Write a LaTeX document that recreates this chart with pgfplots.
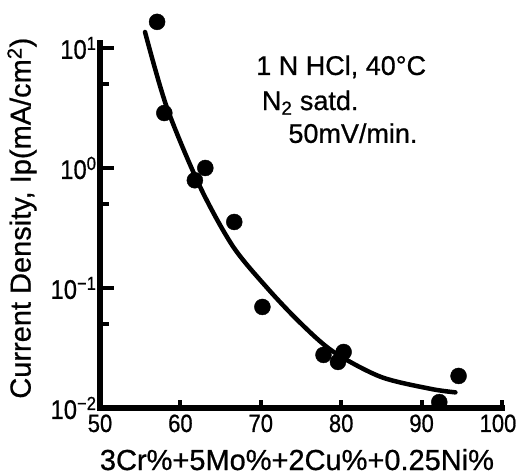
\documentclass[border=0pt]{standalone}
\usepackage{fontspec}
\setmainfont{Liberation Sans}[FakeBold=0.7]
\newfontfamily\narrowfont{Liberation Sans}[FakeStretch=0.88, FakeBold=0.7]
\usepackage{pgfplots}
\pgfplotsset{compat=1.18}
\begin{document}
\begin{tikzpicture}
\useasboundingbox (-100bp,-68bp) rectangle (417bp,408bp);
\begin{axis}[
    scale only axis,
    width=402bp, height=365bp,
    xmin=50, xmax=100,
    ymode=log, ymin=0.01, ymax=11,
    axis x line=bottom, axis y line=left,
    axis line style={line width=5bp, black, -},
    clip=false,
    xtick=\empty,
    extra x ticks={50,60,70,80,90,100},
    extra x tick labels={50,60,70,80,90,\hspace*{-8bp}100},
    extra x tick style={major tick length=8bp},
    ytick={0.01,0.1,1,10},
    yticklabels={10\textsuperscript{−2},10\textsuperscript{−1},10\textsuperscript{0},10\textsuperscript{1}},
    minor ytick={0.05,0.5,5},
    tick align=inside,
    major tick length=14bp, minor tick length=9bp,
    tick style={line width=4bp, black},
    major tick style={line width=4bp},
    minor tick style={line width=4bp},
    ticklabel style={font=\narrowfont\fontsize{25bp}{30bp}\selectfont},
    yticklabel style={font=\narrowfont\fontsize{27bp}{32bp}\selectfont},
    xticklabel style={yshift=-3bp},
    label style={font=\fontsize{29bp}{34bp}\selectfont},
    xlabel={3Cr\%+5Mo\%+2Cu\%+0.25Ni\%},
    ylabel={Current Density, Ip(mA/cm\textsuperscript{2})},
    xlabel style={at={(axis description cs:0.49,0)}, anchor=base, yshift=-62bp},
    ylabel style={at={(axis description cs:-0.194,0.52)}, anchor=center},
]
% measured points
\addplot[only marks, mark=*, mark size=8bp, black] coordinates {
    (57.1,16.5)
    (58.0,2.87)
    (61.8,0.79)
    (63.1,1.0)
    (66.7,0.355)
    (70.2,0.0695)
    (77.8,0.0277)
    (80.3,0.0293)
    (79.6,0.0242)
    (92.2,0.0112)
    (94.6,0.0185)
};
% hand-drawn trend curve
\addplot[smooth, no marks, black, line width=4.5bp, line cap=round] coordinates {
    (55.6,13.58)
    (58.3,3.22)
    (62.4,0.708)
    (66.5,0.224)
    (70.8,0.100)
    (74.9,0.0513)
    (79.0,0.0295)
    (84.9,0.0182)
    (91.1,0.01445)
    (94.2,0.0135)
};
% heavy axis frame as in the printed figure
\draw[line width=6bp, line cap=rect, black]
    (rel axis cs:0,1) -- (rel axis cs:0,0) -- (rel axis cs:1,0);
\node[anchor=base west, font=\fontsize{27bp}{32bp}\selectfont] at (axis cs:69,5.96) {1 N HCl, 40°C};
\node[anchor=base west, font=\fontsize{27bp}{32bp}\selectfont] at (axis cs:69.7,3.04) {N\textsubscript{2} satd.};
\node[anchor=base west, font=\fontsize{27bp}{32bp}\selectfont] at (axis cs:73.0,1.62) {50mV/min.};
\end{axis}
\end{tikzpicture}
\end{document}
